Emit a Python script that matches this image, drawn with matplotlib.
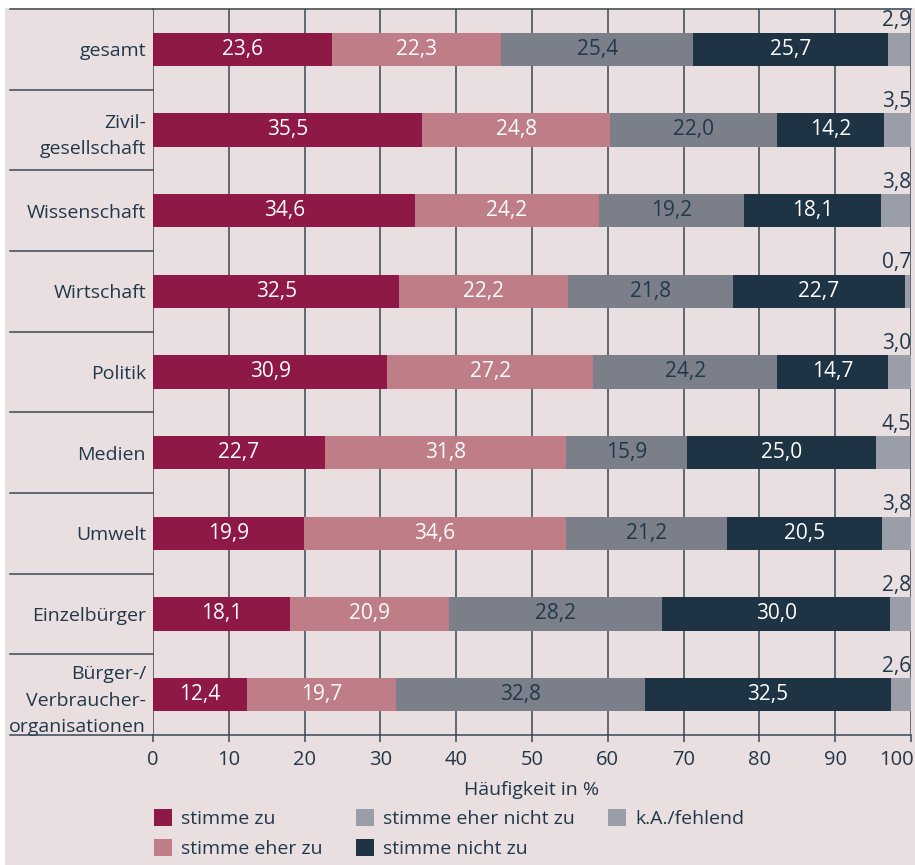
import matplotlib.pyplot as plt
from matplotlib.patches import Rectangle, Patch
from matplotlib.transforms import ScaledTranslation
import numpy as np

# Data
categories = ['gesamt', 'Zivil-\ngesellschaft', 'Wissenschaft', 'Wirtschaft', 'Politik',
              'Medien', 'Umwelt', 'Einzelbürger', 'Bürger-/\nVerbraucher-\norganisationen']
series = ['stimme zu', 'stimme eher zu', 'stimme eher nicht zu', 'stimme nicht zu', 'k.A./fehlend']
stimme_zu = [23.6, 35.5, 34.6, 32.5, 30.9, 22.7, 19.9, 18.1, 12.4]
eher_zu = [22.3, 24.8, 24.2, 22.2, 27.2, 31.8, 34.6, 20.9, 19.7]
eher_nicht_zu = [25.4, 22.0, 19.2, 21.8, 24.2, 15.9, 21.2, 28.2, 32.8]
nicht_zu = [25.7, 14.2, 18.1, 22.7, 14.7, 25.0, 20.5, 30.0, 32.5]
keine_angabe = [2.9, 3.5, 3.8, 0.7, 3.0, 4.5, 3.8, 2.8, 2.6]
xticks = [0, 10, 20, 30, 40, 50, 60, 70, 80, 90, 100]

colors = ['#8e1846', '#be7d87', '#7a7f8a', '#1e3344', '#9a9ea8']
# the legend of the original shows "eher nicht zu" in the lighter grey
legend_colors = ['#8e1846', '#be7d87', '#9a9ea8', '#1e3344', '#9a9ea8']
label_colors = ['white', 'white', '#22384a', 'white', None]
text_col = '#22384a'
line_col = '#3a4855'
bg = '#e9dfe0'

plt.rcParams['font.family'] = ['Open Sans', 'DejaVu Sans']

fig = plt.figure(figsize=(9.15, 8.65), dpi=100, facecolor='white')
fig.patches.append(Rectangle((5 / 915, 0), 1, 1 - 8 / 865, transform=fig.transFigure,
                             facecolor=bg, edgecolor='none', zorder=-10))
ax = fig.add_axes([153 / 915, 1 - 735 / 865, 758 / 915, 726 / 865])
ax.set_facecolor(bg)

y = np.arange(len(categories))
data = [stimme_zu, eher_zu, eher_nicht_zu, nicht_zu, keine_angabe]
left = np.zeros(len(categories))
bar_h = 0.41
for vals, col, lc, name in zip(data, colors, label_colors, series):
    vals = np.array(vals)
    ax.barh(y, vals, left=left, height=bar_h, color=col, label=name, zorder=3)
    if lc is not None:
        for yi, l, v in zip(y, left, vals):
            ax.text(l + v / 2, yi, f'{v:.1f}'.replace('.', ','), ha='center', va='center',
                    color=lc, fontsize=15, zorder=4)
    left += vals

# k.A. values above the bar end
for yi, v in zip(y, keine_angabe):
    ax.annotate(f'{v:.1f}'.replace('.', ','), (100, yi - bar_h / 2), xytext=(0, 1),
                textcoords='offset points', ha='right', va='bottom', color=text_col, fontsize=15)

ax.set_xlim(0, 100)
ax.set_ylim(len(categories) - 0.5, -0.5)
ax.set_xticks(xticks)
ax.set_yticks(y)
ax.set_yticklabels(categories, linespacing=1.6)
ax.tick_params(axis='y', length=0, pad=5, labelsize=14, labelcolor=text_col)
ax.tick_params(axis='x', length=5, width=1.1, color=line_col, pad=6, labelsize=14.5,
               labelcolor=text_col)
# keep "100" inside the figure like the reference
last = ax.get_xticklabels()[-1]
last.set_horizontalalignment('right')
last.set_transform(last.get_transform() + ScaledTranslation(3 / 100, 0, fig.dpi_scale_trans))
ax.grid(axis='x', color=line_col, linewidth=1.1, zorder=1)
for s in ax.spines.values():
    s.set_color(line_col)
    s.set_linewidth(1.1)
ax.spines['left'].set_visible(False)
ax.spines['right'].set_visible(False)
ax.set_xlabel('Häufigkeit in %', fontsize=14, color=text_col, labelpad=8)

# separators in the label area
yt = ax.get_yaxis_transform()
for b in np.arange(-0.5, len(categories), 1.0):
    ax.plot([-143 / 758, 0], [b, b], transform=yt, color=line_col, linewidth=1.1,
            clip_on=False, zorder=5)

handles = [Patch(facecolor=c, edgecolor='none') for c in legend_colors]
fig.legend(handles, series, loc='upper left', bbox_to_anchor=(154 / 915, 1 - 809 / 865),
           ncol=3, frameon=False, fontsize=14, handlelength=0.95, handleheight=0.95,
           handletextpad=0.45, columnspacing=1.7, labelspacing=0.58, labelcolor=text_col,
           borderpad=0, borderaxespad=0)

fig.savefig('out.png', dpi=100, facecolor=fig.get_facecolor())
